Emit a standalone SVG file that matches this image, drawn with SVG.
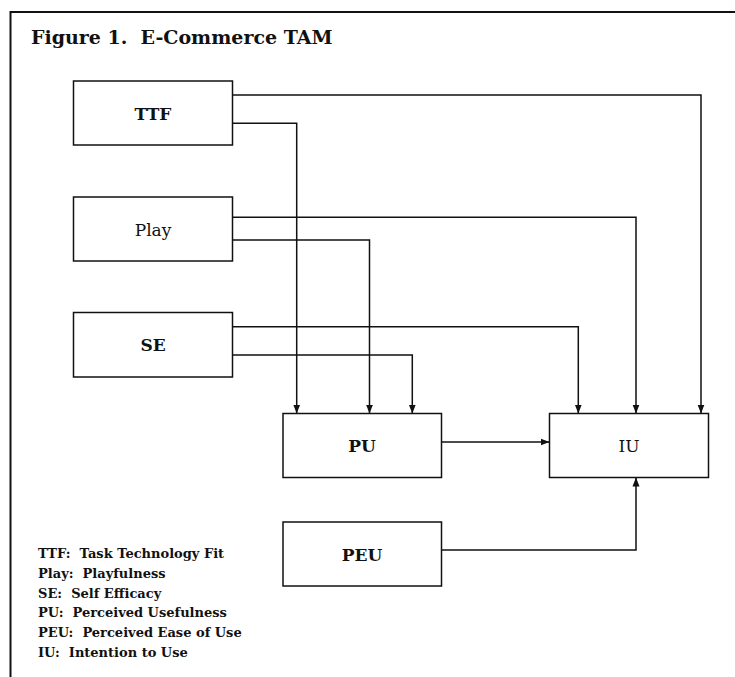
<svg xmlns="http://www.w3.org/2000/svg" width="735" height="677" viewBox="0 0 735 677">
<style>
text{white-space:pre}
.frame{stroke:#111;stroke-width:2;fill:none}
.box{fill:#fff;stroke:#111;stroke-width:1.5}
.lbl{font-family:"DejaVu Serif","Liberation Serif",serif;font-size:17px;fill:#111;text-anchor:middle}
.b{font-weight:bold}
.conn path{fill:none;stroke:#111;stroke-width:1.5}
.title{font-family:"DejaVu Serif","Liberation Serif",serif;font-size:19px;font-weight:bold;fill:#111}
.leg{font-family:"DejaVu Serif","Liberation Serif",serif;font-size:13px;font-weight:bold;fill:#111}
</style>
<defs>
<marker id="ah" markerUnits="userSpaceOnUse" markerWidth="9" markerHeight="9" viewBox="0 0 9 9" refX="9" refY="4.5" orient="auto">
<path d="M0,1 L9,4.5 L0,8 Z" fill="#111"/>
</marker>
</defs>
<rect width="735" height="677" fill="#fff"/>
<path class="frame" d="M10.5,677 V12 H735"/>
<text class="title" x="31" y="43.5" xml:space="preserve">Figure 1.  E-Commerce TAM</text>
<g class="conn">
<path d="M232.5,95 H701 V413.5" marker-end="url(#ah)"/>
<path d="M232.5,123.3 H296.7 V413.5" marker-end="url(#ah)"/>
<path d="M232.5,217.3 H636 V413.5" marker-end="url(#ah)"/>
<path d="M232.5,240 H369.5 V413.5" marker-end="url(#ah)"/>
<path d="M232.5,326.7 H578.3 V413.5" marker-end="url(#ah)"/>
<path d="M232.5,355 H412.3 V413.5" marker-end="url(#ah)"/>
<path d="M441.5,442 H549.5" marker-end="url(#ah)"/>
<path d="M441.5,550 H636 V477.5" marker-end="url(#ah)"/>
</g>
<g id="TTF"><rect class="box" x="73.5" y="81" width="159" height="64"/><text class="lbl b" x="153" y="119.5">TTF</text></g>
<g id="Play"><rect class="box" x="73.5" y="197" width="159" height="64"/><text class="lbl" x="153" y="235.5">Play</text></g>
<g id="SE"><rect class="box" x="73.5" y="312.5" width="159" height="64.5"/><text class="lbl b" x="153" y="351">SE</text></g>
<g id="PU"><rect class="box" x="283" y="413.5" width="158.5" height="64"/><text class="lbl b" x="362" y="452">PU</text></g>
<g id="IU"><rect class="box" x="549.5" y="413.5" width="159" height="64"/><text class="lbl" x="629" y="452">IU</text></g>
<g id="PEU"><rect class="box" x="283" y="522" width="158.5" height="64"/><text class="lbl b" x="362" y="560.5">PEU</text></g>
<g id="legend">
<text class="leg" x="38" y="558.3" xml:space="preserve">TTF:  Task Technology Fit</text>
<text class="leg" x="38" y="578" xml:space="preserve">Play:  Playfulness</text>
<text class="leg" x="38" y="597.6" xml:space="preserve">SE:  Self Efficacy</text>
<text class="leg" x="38" y="617.3" xml:space="preserve">PU:  Perceived Usefulness</text>
<text class="leg" x="38" y="637" xml:space="preserve">PEU:  Perceived Ease of Use</text>
<text class="leg" x="38" y="656.7" xml:space="preserve">IU:  Intention to Use</text>
</g>
</svg>
